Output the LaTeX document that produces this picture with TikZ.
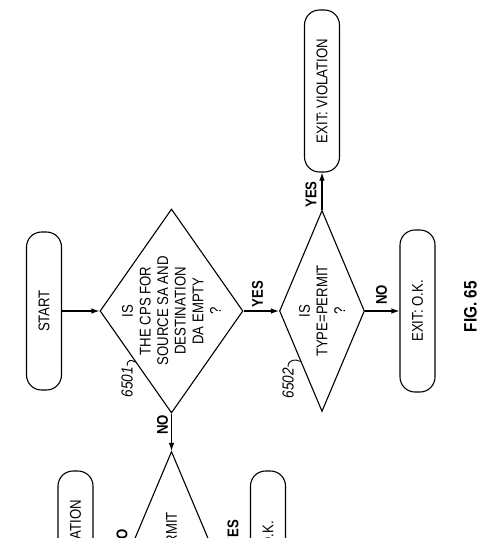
\documentclass[tikz,border=0pt]{standalone}
\usepackage{fontspec}
\newfontfamily\narrowsans[FakeStretch=0.85]{Liberation Sans}
\usetikzlibrary{shapes.geometric,arrows.meta}
\begin{document}
\begin{tikzpicture}[x=1pt,y=-1pt,
  every node/.style={font=\narrowsans\fontsize{15.5}{17.6}\selectfont},
  term/.style={draw,line width=1.1pt,rounded corners=15pt,rotate=90,
    minimum width=162pt,minimum height=35pt,inner sep=0pt},
  dec/.style={draw,line width=1.1pt,diamond,inner sep=0pt},
  dtext/.style={rotate=90,align=center,inner sep=0pt},
  lbl/.style={rotate=90,inner sep=1pt,font=\narrowsans\bfseries\fontsize{15.5}{17}\selectfont},
  ref/.style={rotate=90,inner sep=1pt,font=\narrowsans\itshape\fontsize{16}{17}\selectfont},
  arr/.style={line width=1.1pt,-{Latex[length=8pt,width=5.5pt]}},
  lead/.style={line width=0.9pt}
]
\useasboundingbox (0,0) rectangle (500,538);
\clip (0,0) rectangle (500,538);

% terminals
\node[term,minimum width=158pt] (start) at (44,311) {START};
\node[term] (viol) at (322,91) {EXIT: VIOLATION};
\node[term] (ok) at (417.5,311) {EXIT: O.K.};

% decisions
\node[dec,minimum width=143pt,minimum height=204pt] (d1) at (171.5,311) {};
\node[dtext] (t1) at (d1) {IS\\THE CPS FOR\\SOURCE SA AND\\DESTINATION\\DA EMPTY\\?};
\node[dec,minimum width=85pt,minimum height=201pt] (d2) at (322,311) {};
\node[dtext] (t2) at (d2) {IS\\TYPE=PERMIT\\?};

% partial copy at the bottom edge
\node[dec,minimum width=85pt,minimum height=201pt] (d3) at (171.5,552) {};
\node[dtext] (t3) at ([yshift=-6pt]d3.center) {IS\\TYPE=PERMIT\\?};
\node[term] (viol2) at (75.5,552) {EXIT: VIOLATION};
\node[term] (ok2) at (268,552) {EXIT: O.K.};

% connectors
\draw[arr] (start) -- (d1);
\draw[arr] (d1) -- (d2);
\draw[arr] (d2) -- (viol);
\draw[arr] (d2) -- (ok);
\draw[arr] (d1) -- (d3);
\draw[arr] (d3) -- (viol2);
\draw[arr] (d3) -- (ok2);

% connector labels
\node[lbl] (yes1) at (257.5,294) {YES};
\node[lbl] (yes2) at (311,194.5) {YES};
\node[lbl] (no1) at (162.5,425) {NO};
\node[lbl] (no2) at (381.5,295) {NO};
\node[lbl] (no3) at (122,539) {NO};
\node[lbl] (yes3) at (233,533) {YES};

% reference numerals
\node[ref] (r6501) at (127,382) {6501};
\node[ref] (r6502) at (288,383) {6502};
\draw[lead] (r6501.east) .. controls +(0,-6) and +(-4,-3) .. (d1.south west);
\draw[lead] (r6502.east) .. controls +(0,-7) and +(-5,-3) .. (d2.south west);

% figure label
\node[rotate=90,font=\narrowsans\bfseries\fontsize{18}{20}\selectfont] (fig) at (470.5,306.5) {FIG. 65};
\end{tikzpicture}
\end{document}
